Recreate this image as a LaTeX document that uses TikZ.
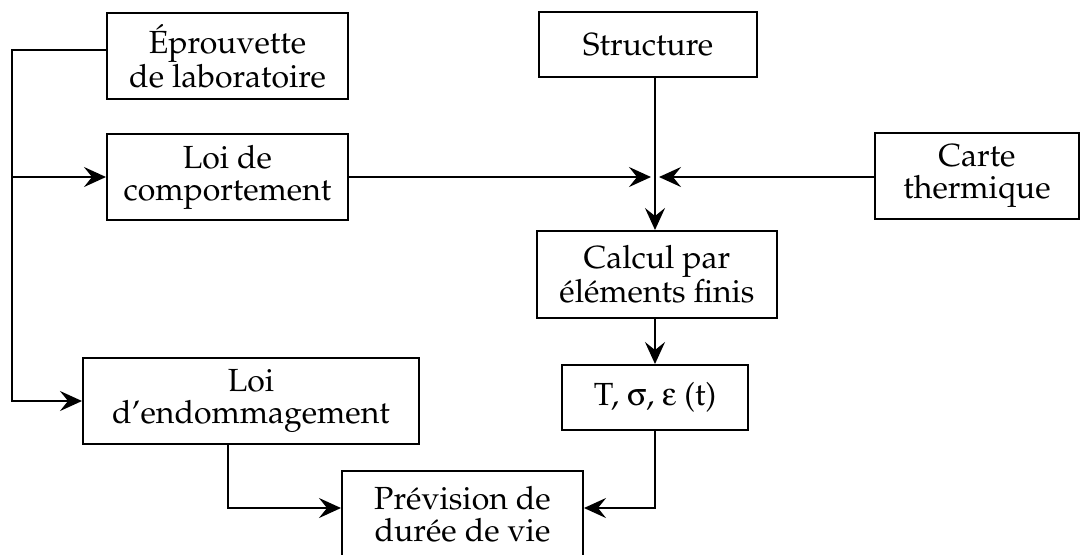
\documentclass[tikz,border=0pt]{standalone}
\usepackage[T1]{fontenc}
\usepackage{mathpazo}
\usepackage[Symbol]{upgreek}
\usetikzlibrary{arrows.meta}

\begin{document}
\begin{tikzpicture}[x=0.5pt, y=-0.5pt,
    box/.style={draw, line width=1pt, align=center, inner sep=0pt, font=\fontsize{16}{16}\selectfont},
    flow/.style={line width=1.1pt, -{Stealth[length=11pt, width=10pt, inset=4pt]}}]
    \useasboundingbox (0,0) rectangle (1081,554);
    % boxes
    \node[box, minimum width=120.5pt, minimum height=43pt] (epr) at (227.5, 56) {Éprouvette\\de laboratoire};
    \node[box, minimum width=120.5pt, minimum height=43pt] (comp) at (227.5, 177) {Loi de\\comportement};
    \node[box, minimum width=109pt, minimum height=32.5pt] (struct) at (648, 44.5) {Structure};
    \node[box, minimum width=102pt, minimum height=43pt] (carte) at (977, 176) {Carte\\thermique};
    \node[box, minimum width=120pt, minimum height=43.5pt] (calcul) at (657, 274.5) {Calcul par\\éléments finis};
    \node[box, minimum width=93pt, minimum height=32.5pt] (tse) at (655, 397.5) {T, $\upsigma$, $\upepsilon$ (t)};
    \node[box, minimum width=168pt, minimum height=43pt] (endo) at (251, 401) {Loi\\d'endommagement};
    \node[box, minimum width=120.5pt, minimum height=43pt] (prev) at (462.5, 514) {Prévision de\\durée de vie};
    % junctions
    \coordinate (bt) at (12, 50);
    \coordinate (hub) at (655, 177);
    \coordinate (dl) at (228, 508);
    \coordinate (dr) at (655, 508);
    % connectors
    \draw[flow] (epr.west |- bt) -- (bt) |- (endo.west);
    \draw[flow] (bt |- comp.west) -- (comp.west);
    \draw[flow] (hub |- struct.south) -- (hub |- calcul.north);
    \draw[flow] (comp.east) -- ([xshift=-2pt]hub);
    \draw[flow] (carte.west |- hub) -- ([xshift=2pt]hub);
    \draw[flow] (hub |- calcul.south) -- (hub |- tse.north);
    \draw[flow] (endo.south -| dl) -- (dl) -- (prev.west |- dl);
    \draw[flow] (tse.south -| dr) -- (dr) -- (prev.east |- dr);
\end{tikzpicture}
\end{document}
